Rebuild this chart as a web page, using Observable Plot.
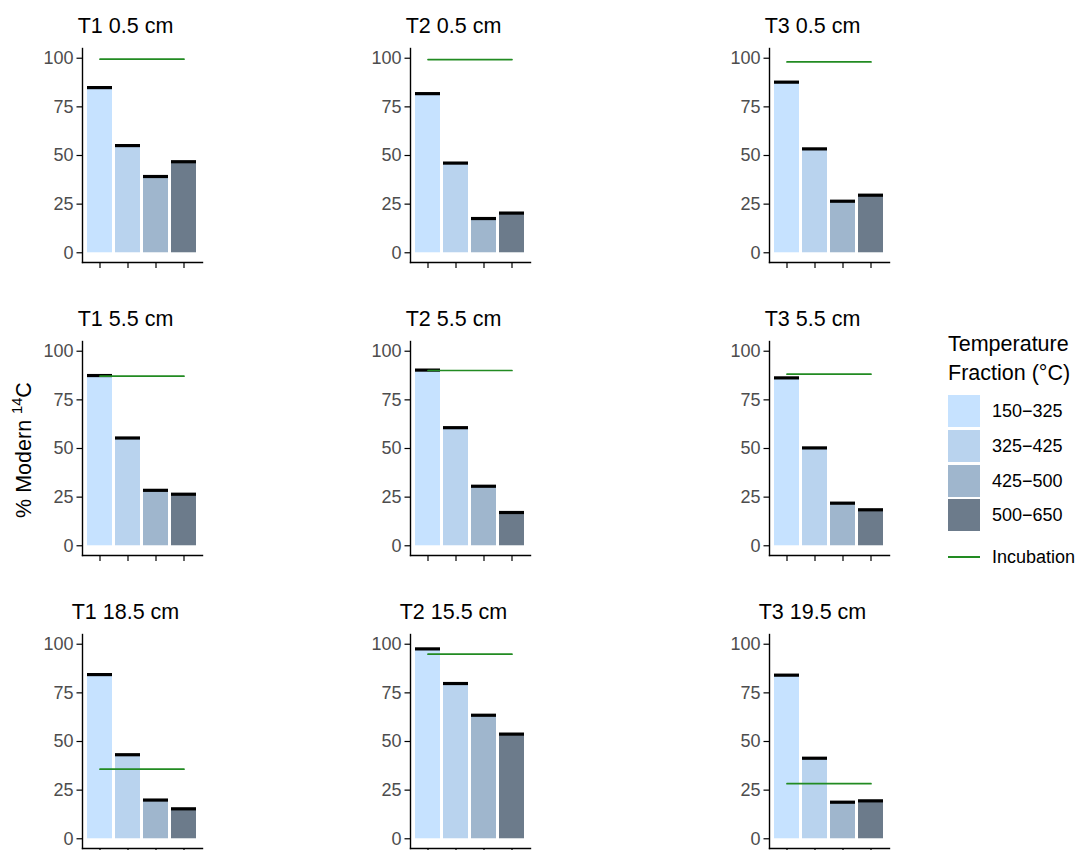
<!DOCTYPE html>
<html>
<head>
<meta charset="utf-8">
<script src="https://cdn.jsdelivr.net/npm/d3@7"></script>
<script src="https://cdn.jsdelivr.net/npm/@observablehq/plot@0.6"></script>
<style>
  html, body { margin: 0; padding: 0; background: #fff; }
  #chart { position: relative; width: 1075px; height: 850px; overflow: hidden; background: #fff;
           font-family: "Liberation Sans", Arial, Helvetica, sans-serif; }
  #chart svg { position: absolute; overflow: visible; }
  .ylab { position: absolute; left: 24px; top: 450px; transform: translate(-50%, -50%) rotate(-90deg);
          font-size: 21.5px; white-space: nowrap; color: #000; }
  .ylab sup { font-size: 0.68em; vertical-align: 0.55em; line-height: 0; }
  .legend-title { position: absolute; left: 948px; top: 330px; font-size: 21.5px; line-height: 29px; color: #000; }
  .key { position: absolute; left: 948px; width: 32px; height: 32px; }
  .key-label { position: absolute; left: 992px; font-size: 18px; line-height: 20px; color: #000; }
  .inc-key { position: absolute; left: 948px; width: 32px; height: 1.6px; background: forestgreen; }
</style>
</head>
<body>
<div id="chart"></div>
<script>
// Temperature fractions (°C) and their fill colours
const fractions = ["150−325", "325−425", "425−500", "500−650"];
const fractionColors = ["#C6E2FF", "#B9D3EE", "#9FB6CD", "#6C7B8B"];
const incubationColor = "forestgreen";

// Panel titles, row by row
const panelTitles = ["T1 0.5 cm", "T2 0.5 cm", "T3 0.5 cm",
                     "T1 5.5 cm", "T2 5.5 cm", "T3 5.5 cm",
                     "T1 18.5 cm", "T2 15.5 cm", "T3 19.5 cm"];

// % Modern 14C of each temperature fraction, per core and depth
const t1_0_5  = [84.9, 55.1, 39.2, 46.8];
const t2_0_5  = [81.8, 46.1, 17.6, 20.4];
const t3_0_5  = [87.7, 53.4, 26.5, 29.6];
const t1_5_5  = [87.5, 55.4, 28.5, 26.5];
const t2_5_5  = [90.3, 60.7, 30.6, 17.1];
const t3_5_5  = [86.3, 50.3, 21.9, 18.5];
const t1_18_5 = [84.4, 43.2, 19.9, 15.4];
const t2_15_5 = [97.6, 79.8, 63.5, 53.8];
const t3_19_5 = [84.1, 41.4, 18.8, 19.5];
const panelValues = [t1_0_5, t2_0_5, t3_0_5, t1_5_5, t2_5_5, t3_5_5, t1_18_5, t2_15_5, t3_19_5];

// % Modern 14C of the incubation CO2, same panel order
const incubation = [99.5, 99.3, 98.1, 87.2, 90.1, 88.2, 35.8, 94.9, 28.3];

const yTicks = [0, 25, 50, 75, 100];

// Panel placement (left axis x, panel top y)
const colX = [82, 410, 769];
const rowY = [48.3, 340.7, 634.3];

const M = {left: 50, right: 10, top: 40, bottom: 12};
const panelW = 120, panelH = 214;
const font = '"Liberation Sans", Arial, Helvetica, sans-serif';

const chart = document.getElementById("chart");

function panel(title, values, inc) {
  const rows = fractions.map((f, i) => ({fraction: f, value: values[i]}));
  return Plot.plot({
    width: M.left + panelW + M.right,
    height: M.top + panelH + M.bottom,
    marginLeft: M.left, marginRight: M.right, marginTop: M.top, marginBottom: M.bottom,
    style: {fontFamily: font, background: "transparent", overflow: "visible"},
    x: {domain: fractions, paddingInner: 0.1, paddingOuter: 0.15, axis: null},
    y: {domain: [-5, 105], axis: null},
    color: {domain: fractions, range: fractionColors},
    marks: [
      Plot.barY(rows, {x: "fraction", y: "value", fill: "fraction"}),
      Plot.tickY(rows, {x: "fraction", y: "value", stroke: "black", strokeWidth: 3.2}),
      Plot.lineY(fractions, {x: d => d, y: () => inc, stroke: incubationColor, strokeWidth: 1.7}),
      Plot.axisY({ticks: yTicks, tickSize: 5.5, tickPadding: 3.5, fontSize: 18,
                  stroke: "black", strokeWidth: 1.2, fill: "#4D4D4D", label: null}),
      Plot.axisX({tickSize: 6, tickFormat: () => "", stroke: "black", strokeWidth: 1.2, label: null}),
      Plot.frame({anchor: "left", stroke: "black", strokeWidth: 1.4}),
      Plot.frame({anchor: "bottom", stroke: "black", strokeWidth: 1.4}),
      Plot.text([title], {frameAnchor: "top", dx: -17, dy: -22.7, lineAnchor: "middle",
                          fontSize: 21.5, fill: "black"})
    ]
  });
}

panelTitles.forEach((title, k) => {
  const r = Math.floor(k / 3), c = k % 3;
  const svg = panel(title, panelValues[k], incubation[k]);
  svg.style.left = (colX[c] - M.left) + "px";
  svg.style.top = (rowY[r] - M.top) + "px";
  chart.appendChild(svg);
});

// Shared y-axis title
const ylab = document.createElement("div");
ylab.className = "ylab";
ylab.innerHTML = "% Modern <sup>14</sup>C";
chart.appendChild(ylab);

// Legend
const lt = document.createElement("div");
lt.className = "legend-title";
lt.innerHTML = "Temperature<br>Fraction (°C)";
chart.appendChild(lt);

fractions.forEach((f, i) => {
  const top = 395 + i * 34.8;
  const key = document.createElement("div");
  key.className = "key";
  key.style.top = top + "px";
  key.style.background = fractionColors[i];
  chart.appendChild(key);
  const lab = document.createElement("div");
  lab.className = "key-label";
  lab.style.top = (top + 16 - 10) + "px";
  lab.textContent = f;
  chart.appendChild(lab);
});

const incKey = document.createElement("div");
incKey.className = "inc-key";
incKey.style.top = "556px";
chart.appendChild(incKey);
const incLab = document.createElement("div");
incLab.className = "key-label";
incLab.style.top = (556.8 - 10) + "px";
incLab.textContent = "Incubation";
chart.appendChild(incLab);
</script>
</body>
</html>
